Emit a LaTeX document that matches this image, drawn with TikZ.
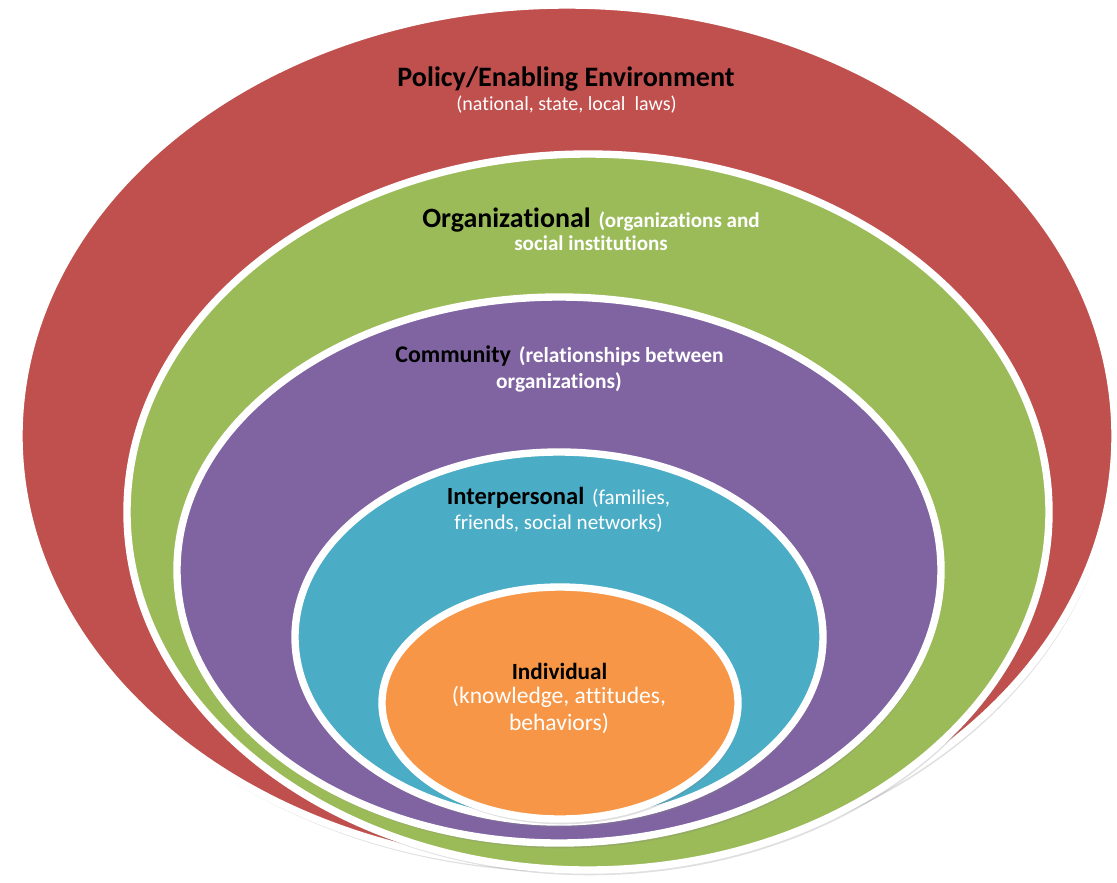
\documentclass[tikz,border=0pt]{standalone}
\usepackage{fontspec}
\setmainfont{Carlito}[Ligatures=NoCommon]
\usetikzlibrary{shadows}
\definecolor{policyred}{HTML}{C0504D}
\definecolor{orggreen}{HTML}{9BBB59}
\definecolor{commpurple}{HTML}{8064A2}
\definecolor{interteal}{HTML}{4BACC6}
\definecolor{indorange}{HTML}{F79646}
\tikzset{
  ring/.style={fill=#1, draw=white, line width=2.1pt,
    drop shadow={opacity=0.25, shadow xshift=0.5pt, shadow yshift=-1.5pt}},
  txt/.style={anchor=base, inner sep=0pt, text=white},
}
% black level name, size given
\newcommand{\lvlname}[2]{{\fontsize{#1}{#1}\selectfont\bfseries\color{black}#2}}
\newcommand{\lvlnote}[2]{{\fontsize{#1}{#1}\selectfont#2}}

\begin{document}
\begin{tikzpicture}
	\useasboundingbox (0,0) rectangle (11.17,8.82);
	% nested levels, outside in
	\path[ring=policyred] (5.67,4.46) ellipse (5.48 and 4.31);
	\path[ring=orggreen] (5.88,3.70) ellipse (4.61 and 3.58);
	\path[ring=commpurple] (5.59,3.12) ellipse (3.82 and 2.73);
	\path[ring=interteal] (5.59,2.45) ellipse (2.64 and 1.85);
	\path[ring=indorange] (5.60,1.79) ellipse (1.78 and 1.16);

	\node[txt] (policy) at (5.66,7.96) {\lvlname{8}{Policy/Enabling Environment}};
	\node[txt] (policynote) at (5.665,7.72) {\lvlnote{5.7}{(national, state, local\ \ laws)}};

	\node[txt] (org) at (5.91,6.55) {\lvlname{7.95}{Organizational} \lvlnote{6}{\bfseries(organizations and}};
	\node[txt] (orgnote) at (5.91,6.32) {\lvlnote{6}{\bfseries social institutions}};

	\node[txt] (comm) at (5.595,5.20) {\lvlname{6.8}{Community} \lvlnote{6.1}{\bfseries(relationships between}};
	\node[txt] (commnote) at (5.59,4.94) {\lvlnote{6.1}{\bfseries organizations)}};

	\node[txt] (inter) at (5.585,3.78) {\lvlname{7}{Interpersonal} \lvlnote{6}{(families,}};
	\node[txt] (internote) at (5.585,3.53) {\lvlnote{6}{friends, social networks)}};

	\node[txt] (indiv) at (5.595,2.03) {\lvlname{6.6}{Individual}};
	\node[txt] (indivnote) at (5.59,1.79) {\lvlnote{6.7}{(knowledge, attitudes,}};
	\node[txt] (indivnote2) at (5.59,1.52) {\lvlnote{6.7}{behaviors)}};
\end{tikzpicture}
\end{document}
